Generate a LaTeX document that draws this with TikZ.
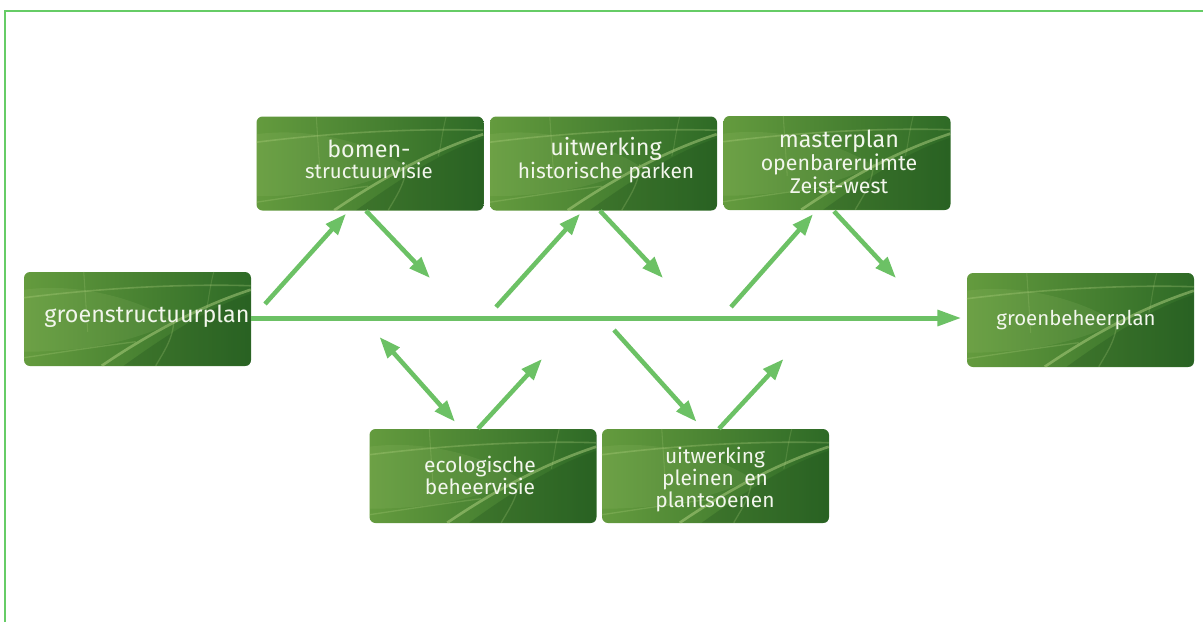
\documentclass[tikz,border=0pt]{standalone}
\usepackage{fontspec}
\setmainfont{Fira Sans}
\usetikzlibrary{arrows.meta,calc}
\definecolor{framegreen}{RGB}{102,204,102}
\definecolor{arrowgreen}{RGB}{108,193,101}
\definecolor{leafL}{RGB}{100,155,62}
\definecolor{leafR}{RGB}{46,106,38}
\definecolor{leafD}{RGB}{30,80,28}
\definecolor{leafV}{RGB}{190,220,140}
\definecolor{txtwhite}{RGB}{242,246,236}
\tikzset{
  leafbox/.style={rounded corners=4.5pt, minimum width=170.25pt, minimum height=70.5pt,
    inner sep=0pt, left color=leafL, right color=leafR},
  lbl/.style={text=txtwhite, align=center, inner sep=0pt, anchor=base},
  conn/.style={draw=arrowgreen, line width=3.4pt, -{Triangle[length=16pt,width=11.5pt]}},
  dconn/.style={draw=arrowgreen, line width=3.4pt, {Triangle[length=16pt,width=11.5pt]}-{Triangle[length=16pt,width=11.5pt]}},
  mainconn/.style={draw=arrowgreen, line width=3.75pt, -{Triangle[length=18pt,width=11.5pt]}, shorten >=4pt},
}
\newcommand\firstline[1]{{\fontsize{17.5}{16.5}\selectfont #1}}
% leaf texture inside a box node (box is 227 x 94 px)
\newcommand\leafveins[1]{%
  \begin{scope}
    \clip[rounded corners=4.5pt] (#1.south west) rectangle (#1.north east);
    \begin{scope}[shift={(#1.north west)}]
      \fill[leafD, opacity=.30] (100,94) .. controls (150,58) and (190,34) .. (227,22) -- (227,94) -- cycle;
      \fill[leafV, opacity=.10] (0,18) .. controls (60,10) and (120,30) .. (150,50) .. controls (110,70) and (60,80) .. (0,80) -- cycle;
      \draw[leafV, opacity=.45, line width=2pt] (78,94) .. controls (128,60) and (178,34) .. (227,18);
      \draw[leafV, opacity=.28, line width=1.2pt] (0,26) .. controls (80,16) and (160,12) .. (227,14);
      \draw[leafV, opacity=.22, line width=1pt] (150,48) .. controls (150,66) and (140,80) .. (132,94);
      \draw[leafV, opacity=.22, line width=1pt] (112,70) .. controls (80,74) and (40,80) .. (0,86);
      \draw[leafV, opacity=.18, line width=.8pt] (60,0) -- (64,60);
      \draw[leafV, opacity=.18, line width=.8pt] (190,0) .. controls (185,20) and (185,30) .. (182,40);
    \end{scope}
  \end{scope}}
\begin{document}
\begin{tikzpicture}[x=0.75pt,y=-0.75pt]
\useasboundingbox (0,0) rectangle (1203,622);
\draw[framegreen, line width=1.5pt] (4.5,622) -- (4.5,10.5) -- (1203,10.5);

% boxes
\node[leafbox] (gsp) at (137.5,319) {};
\node[leafbox] (bomen) at (370,163.5) {};
\node[leafbox] (hist) at (603.5,163.5) {};
\node[leafbox] (master) at (837,163) {};
\node[leafbox] (gbp) at (1080.5,320) {};
\node[leafbox] (eco) at (483,476) {};
\node[leafbox] (plein) at (715.5,476) {};
\leafveins{gsp}\leafveins{bomen}\leafveins{hist}\leafveins{master}
\leafveins{gbp}\leafveins{eco}\leafveins{plein}

% texts (anchor = baseline of the last line)
\node[lbl, font=\fontsize{17.5}{16.5}\selectfont] (t-gsp) at (147,322) {groenstructuurplan};
\node[lbl, font=\fontsize{15.3}{15.75}\selectfont] (t-bomen) at (369,178) {\firstline{bomen-}\\structuurvisie};
\node[lbl, font=\fontsize{15.7}{15.75}\selectfont] (t-hist) at (606,178) {\firstline{uitwerking}\\historische parken};
\node[lbl, font=\fontsize{16}{17.25}\selectfont] (t-master) at (839,193) {\firstline{masterplan}\\openbareruimte\\Zeist-west};
\node[lbl, font=\fontsize{15.3}{16.5}\selectfont] (t-gbp) at (1076,325) {groenbeheerplan};
\node[lbl, font=\fontsize{15.7}{16.5}\selectfont] (t-eco) at (480,494) {ecologische\\beheervisie};
\node[lbl, font=\fontsize{15.7}{16.5}\selectfont] (t-plein) at (715,507) {uitwerking\\pleinen\enspace en\\plantsoenen};

% free ends
\coordinate (a1s) at (265,304);
\coordinate (a2e) at (430,278);
\coordinate (a3s) at (496,307);
\coordinate (a4e) at (663,278);
\coordinate (a5s) at (731,307);
\coordinate (a6e) at (896,278);
\coordinate (dbs) at (379.5,337);
\coordinate (a7e) at (542,359);
\coordinate (a8s) at (614,330);
\coordinate (a9e) at (783.5,359);
\coordinate (mstart) at ($(gsp.east)+(0,-1)$);

% main axis
\draw[mainconn] (mstart) -- (mstart -| gbp.west);

% upper connectors
\draw[conn] (a1s) -- ($(bomen.south)+(-24,3)$);
\draw[conn] ($(bomen.south)+(-4,0)$) -- (a2e);
\draw[conn] (a3s) -- ($(hist.south)+(-23.5,3)$);
\draw[conn] ($(hist.south)+(-3.5,0)$) -- (a4e);
\draw[conn] (a5s) -- ($(master.south)+(-24,4)$);
\draw[conn] ($(master.south)+(-3,1)$) -- (a6e);

% lower connectors
\draw[dconn] (dbs) -- ($(eco.north)+(-28,-7)$);
\draw[conn] ($(eco.north)+(-5,0)$) -- (a7e);
\draw[conn] (a8s) -- ($(plein.north)+(-19,-7)$);
\draw[conn] ($(plein.north)+(3.5,0)$) -- (a9e);
\end{tikzpicture}
\end{document}
